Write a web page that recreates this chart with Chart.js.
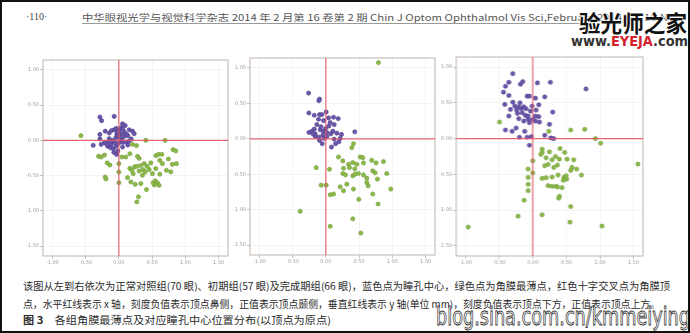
<!DOCTYPE html>
<html>
<head>
<meta charset="utf-8">
<script src="https://cdn.jsdelivr.net/npm/chart.js@4/dist/chart.umd.min.js"></script>
<style>
  html,body{margin:0;padding:0;background:#fff;}
  #page{position:relative;width:686px;height:329px;border:2px solid #111;overflow:hidden;background:#fff;}
  .t{position:absolute;white-space:nowrap;display:inline-block;transform-origin:left center;}
  canvas{position:absolute;}
  .cap{font-family:"Noto Sans CJK SC",sans-serif;font-size:10px;color:#2a2a2a;}
</style>
</head>
<body>
<div id="page">
  <div class="t" style="left:24px;top:9px;font:10px 'Liberation Serif',serif;color:#444;">·110·</div>
  <div class="t" id="title" style="left:80px;top:9px;font-family:'Noto Sans CJK SC',sans-serif;font-size:9px;color:#555;">中华眼视光学与视觉科学杂志 2014 年 2 月第 16 卷第 2 期 Chin J Optom Ophthalmol Vis Sci,February 2014,Vol.16,No.2</div>
  <div style="position:absolute;left:80px;top:21px;width:500px;border-top:1px solid #999;"></div>
  <div class="t" id="logo1" style="left:577px;top:3px;font-family:'Noto Sans CJK SC',sans-serif;font-weight:bold;font-size:23px;color:#111;text-shadow:0 0 2px #fff,0 0 2px #fff,0 0 3px #fff;">验光师之家</div>
  <div class="t" id="logo2" style="left:569px;top:31px;font-family:'DejaVu Sans',sans-serif;font-weight:bold;font-size:14px;color:#333;text-shadow:0 0 2px #fff;">www.<span style="color:#d4202c">EYEJA</span>.com</div>

  <canvas id="c1"></canvas>
  <canvas id="c2"></canvas>
  <canvas id="c3"></canvas>

  <div class="t cap" id="cap1" style="left:21px;top:276px;">该图从左到右依次为正常对照组(70 眼)、初期组(57 眼)及完成期组(66 眼)，蓝色点为瞳孔中心，绿色点为角膜最薄点，红色十字交叉点为角膜顶</div>
  <div class="t cap" id="cap2" style="left:21px;top:294px;">点，水平红线表示 x 轴，刻度负值表示顶点鼻侧，正值表示顶点颞侧，垂直红线表示 y 轴(单位 mm)，刻度负值表示顶点下方，正值表示顶点上方。</div>
  <div class="t cap" id="cap3" style="left:21px;top:310px;"><b>图 3</b>　各组角膜最薄点及对应瞳孔中心位置分布(以顶点为原点)</div>
  <div class="t" id="blog" style="left:434px;top:300px;font-family:'DejaVu Sans',sans-serif;font-size:25px;color:#fff;-webkit-text-stroke:0.9px #333;">blog.sina.com.cn/kmmeiying</div>
</div>

<script>
// ---- data (x, y in mm, relative to corneal apex) ----
const xTicks = [-1.00, -0.50, 0.00, 0.50, 1.00, 1.50];
const yTicks = [1.00, 0.50, 0.00, -0.50, -1.00, -1.50];

// Panel 1: normal control group — pupil centres (blue)
const ctrlPupil = [
 [-0.285,0.33],[-0.26,0.28],[-0.07,0.34],[0.055,0.235],[0.095,0.21],[-0.11,0.14],[-0.07,0.15],
 [0.015,0.15],[0.005,0.10],[0.035,0.18],[0.155,0.15],[0.205,0.13],[0.23,0.095],[0.135,0.066],
 [0.08,0.057],[-0.03,0.085],[-0.045,0.038],[-0.145,0.024],[-0.285,0.085],[-0.285,0.02],[-0.385,-0.07],
 [-0.265,-0.057],[-0.195,-0.038],[-0.165,-0.085],[-0.125,-0.104],[-0.085,-0.12],[-0.045,-0.085],
 [-0.015,-0.15],[0.015,-0.028],[0.045,0.01],[0.065,-0.028],[0.115,-0.024],[0.155,-0.01],[0.185,0.02],
 [-0.035,-0.2],[-0.075,-0.17],[-0.215,-0.03],[-0.115,-0.057],[-0.095,0.0],[-0.005,0.047],[0.025,0.094],
 [-0.145,0.104],[-0.205,0.13],[0.085,0.113],[0.115,0.085],[-0.025,0.12],[-0.065,-0.028],[-0.135,-0.02],
 [0.135,-0.066],[0.055,-0.094],[0.01,0.06],[-0.04,0.17],[0.06,0.16],[-0.18,-0.06],[-0.02,-0.05]
];
// Panel 1: thinnest corneal points (green)
const ctrlThin = [
 [-0.57,0.066],[0.405,0.0],[0.695,0.0],[0.0,-0.33],[0.0,-0.45],[0.0,-0.60],[0.205,-0.057],[0.265,-0.075],
 [-0.305,-0.226],[-0.215,-0.208],[-0.135,-0.35],[-0.205,-0.52],[-0.195,-0.547],[0.105,-0.236],[0.165,-0.19],
 [0.28,-0.226],[0.305,-0.255],[0.38,-0.33],[0.165,-0.396],[0.195,-0.425],[0.235,-0.377],[0.265,-0.368],
 [0.325,-0.358],[0.365,-0.415],[0.395,-0.448],[0.455,-0.415],[0.425,-0.368],[0.48,-0.32],[0.555,-0.217],
 [0.595,-0.198],[0.645,-0.198],[0.815,-0.132],[0.855,-0.15],[0.615,-0.283],[0.655,-0.33],[0.745,-0.264],
 [0.805,-0.34],[0.865,-0.33],[0.715,-0.425],[0.78,-0.448],[0.555,-0.40],[0.505,-0.472],[0.615,-0.48],
 [0.545,-0.575],[0.58,-0.604],[0.605,-0.637],[0.535,-0.632],[0.515,-0.604],[0.415,-0.698],[0.33,-0.613],
 [0.245,-0.623],[0.18,-0.59],[0.13,-0.528],[0.295,-0.80],[0.27,-0.873],[0.215,-0.472],[0.305,-0.434],
 [0.355,-0.495],[0.045,-0.236],[-0.265,-0.236],[-0.175,-0.32]
];
// Panel 2: early group
const earlyPupil = [
 [-0.26,0.645],[-0.105,0.537],[-0.095,0.56],[-0.255,0.364],[-0.175,0.332],[-0.095,0.341],[-0.06,0.341],
 [0.005,0.378],[-0.11,0.276],[-0.035,0.257],[0.04,0.294],[0.115,0.304],[0.185,0.285],[0.065,0.229],
 [0.125,0.20],[-0.135,0.20],[-0.175,0.136],[-0.255,0.089],[-0.21,0.107],[-0.16,0.07],[-0.085,0.126],
 [-0.035,0.107],[-0.005,0.145],[0.015,0.089],[0.075,0.07],[0.105,0.107],[0.165,0.079],[0.235,0.061],
 [0.215,0.005],[0.195,-0.042],[0.145,-0.07],[0.085,-0.117],[-0.055,-0.07],[-0.095,-0.023],[-0.16,0.033],
 [-0.195,0.07],[0.015,0.033],[-0.025,0.005],[0.435,0.098],[0.125,-0.005],[0.045,0.18],[-0.075,0.17],
 [-0.105,0.023],[-0.045,0.051]
];
const earlyThin = [
 [0.79,1.075],[0.415,-0.07],[0.39,-0.126],[0.19,-0.257],[0.255,-0.313],[0.405,-0.336],[0.515,-0.257],
 [0.555,-0.266],[0.565,-0.341],[0.69,-0.304],[0.755,-0.341],[0.865,-0.322],[0.265,-0.416],[0.355,-0.407],
 [0.435,-0.425],[0.255,-0.49],[0.295,-0.51],[0.405,-0.523],[0.44,-0.50],[0.49,-0.49],[0.565,-0.51],
 [0.615,-0.556],[0.705,-0.453],[0.74,-0.48],[0.775,-0.57],[0.915,-0.49],[0.615,-0.617],[0.635,-0.664],
 [0.315,-0.64],[0.215,-0.678],[0.265,-0.734],[0.415,-0.71],[0.065,-0.79],[0.115,-0.78],[0.495,-0.855],
 [0.705,-0.78],[0.785,-0.92],[0.975,-0.71],[-0.145,-0.407],[0.055,-0.43],[-0.07,-0.654],[0.005,-0.654],
 [-0.385,-1.023],[0.405,-1.13],[0.065,-1.234],[0.525,-1.33],[0.34,-0.36],[0.465,-0.36]
];
// Panel 3: completed group
const donePupil = [
 [-0.297,0.907],[-0.356,0.787],[-0.406,0.731],[-0.183,0.759],[-0.149,0.796],[0.069,0.778],[0.262,0.787],
 [-0.436,0.648],[-0.356,0.602],[-0.084,0.593],[-0.05,0.593],[0.04,0.565],[0.178,0.583],[-0.416,0.477],
 [-0.297,0.509],[-0.267,0.454],[-0.208,0.444],[-0.168,0.417],[-0.134,0.444],[-0.099,0.417],[-0.01,0.454],
 [0.089,0.472],[-0.332,0.407],[-0.158,0.361],[-0.109,0.324],[-0.069,0.315],[0.05,0.398],[0.04,0.315],
 [0.089,0.306],[0.297,0.37],[-0.356,0.315],[-0.208,0.278],[-0.134,0.245],[-0.05,0.222],[0.04,0.245],
 [0.099,0.231],[0.248,0.199],[-0.406,0.12],[-0.307,0.102],[-0.248,0.148],[-0.119,0.102],[-0.198,0.019],
 [-0.084,0.019],[-0.02,0.028],[0.178,0.046],[0.267,0.009],[0.312,0.0],[-0.05,-0.093],[0.792,0.694],
 [-0.069,0.269],[-0.228,0.352],[-0.035,0.384],[-0.24,0.40],[-0.19,0.50],[0.0,0.27]
];
const doneThin = [
 [-0.495,0.231],[0.238,0.102],[0.564,0.12],[0.772,0.13],[0.931,0.0],[1.01,-0.065],[1.564,-0.356],
 [0.139,-0.194],[0.119,-0.222],[0.248,-0.185],[0.337,-0.25],[0.406,-0.139],[0.475,-0.194],[0.51,-0.287],
 [0.609,-0.296],[0.653,-0.426],[0.564,-0.444],[0.723,-0.509],[0.198,-0.269],[0.228,-0.361],[0.287,-0.296],
 [0.366,-0.37],[0.396,-0.287],[0.178,-0.38],[0.139,-0.556],[0.198,-0.546],[0.287,-0.537],[0.376,-0.509],
 [0.465,-0.542],[0.495,-0.519],[0.505,-0.565],[0.455,-0.583],[0.228,-0.657],[0.287,-0.667],[0.347,-0.667],
 [0.366,-0.676],[0.436,-0.685],[0.396,-0.806],[0.386,-0.833],[-0.069,-0.426],[0.0,-0.31],[0.0,-0.481],
 [-0.069,-0.639],[-0.069,-0.727],[-0.129,-0.861],[-0.218,-1.083],[0.139,-1.065],[0.564,-0.949],
 [0.554,-1.167],[1.03,-1.222],[-0.96,-1.236],[-0.069,-0.542],[0.312,-0.403],[0.139,-0.148],[0.584,-0.403]
];

const X_MIN = -1.14, X_MAX = 1.64, Y_MIN = -1.64, Y_MAX = 1.14;

// ---- drawing ----
const frameAndCross = {
  id: 'frameAndCross',
  afterDatasetsDraw(chart) {
    const {ctx, chartArea: a, scales} = chart;
    ctx.save();
    ctx.strokeStyle = '#bfb3ae';
    ctx.lineWidth = 1;
    ctx.strokeRect(a.left, a.top, a.right - a.left, a.bottom - a.top);
    const x0 = scales.x.getPixelForValue(0);
    const y0 = scales.y.getPixelForValue(0);
    ctx.strokeStyle = 'rgba(226,84,100,0.9)';
    ctx.lineWidth = 1.2;
    ctx.beginPath();
    ctx.moveTo(a.left, y0); ctx.lineTo(a.right, y0);
    ctx.moveTo(x0, a.top); ctx.lineTo(x0, a.bottom);
    ctx.stroke();
    ctx.restore();
  }
};

function toPts(arr){ return arr.map(p => ({x:p[0], y:p[1]})); }

function makePanel(id, L, T, R, B, pupil, thin) {
  const AX = 30, PT = 6, PR = 6, XH = 16;
  const cv = document.getElementById(id);
  const w = (R - L) + AX + PR, h = (B - T) + PT + XH;
  cv.style.left = (L - AX) + 'px';
  cv.style.top = (T - PT) + 'px';
  cv.style.width = w + 'px'; cv.style.height = h + 'px';
  cv.width = w; cv.height = h;
  const tickFont = {family: 'DejaVu Sans', size: 5};
  new Chart(cv, {
    type: 'scatter',
    data: {
      datasets: [
        {data: toPts(thin), backgroundColor: 'rgb(140,186,72)', borderColor: 'rgb(112,156,58)', borderWidth: 0.6, pointRadius: 2.1},
        {data: toPts(pupil), backgroundColor: 'rgb(108,86,172)', borderColor: 'rgb(80,62,140)', borderWidth: 0.6, pointRadius: 2.1}
      ]
    },
    options: {
      responsive: false, animation: false, devicePixelRatio: 1,
      layout: {padding: {top: PT, right: PR, left: 0, bottom: 0}},
      plugins: {legend: {display: false}, tooltip: {enabled: false}},
      scales: {
        x: {
          type: 'linear', min: X_MIN, max: X_MAX,
          afterBuildTicks: s => { s.ticks = xTicks.map(v => ({value: v})); },
          afterFit: s => { s.height = XH; },
          ticks: {font: tickFont, color: '#9c9c9c', padding: 1, maxRotation: 0, callback: v => Number(v).toFixed(2)},
          grid: {color: 'rgba(215,215,215,0.45)', tickColor: '#9a9a9a', tickLength: 3, lineWidth: 0.6},
          border: {display: false}
        },
        y: {
          type: 'linear', min: Y_MIN, max: Y_MAX,
          afterBuildTicks: s => { s.ticks = yTicks.map(v => ({value: v})); },
          afterFit: s => { s.width = AX; },
          ticks: {font: tickFont, color: '#9c9c9c', padding: 1, callback: v => Number(v).toFixed(2)},
          grid: {color: 'rgba(215,215,215,0.45)', tickColor: '#9a9a9a', tickLength: 3, lineWidth: 0.6},
          border: {display: false}
        }
      }
    },
    plugins: [frameAndCross]
  });
}

makePanel('c1', 40.7, 57.7, 226, 254, ctrlPupil, ctrlThin);
makePanel('c2', 247.7, 56, 433.3, 253, earlyPupil, earlyThin);
makePanel('c3', 454, 55, 640.7, 254, donePupil, doneThin);

// ---- fit text widths to the reference ----
function fit(id, w) {
  const el = document.getElementById(id);
  const s = w / el.getBoundingClientRect().width;
  el.style.transform = 'scaleX(' + s + ')';
}
fit('title', 602);
fit('logo1', 108);
fit('logo2', 117);
fit('cap1', 647);
fit('cap2', 637);
fit('cap3', 308);
fit('blog', 254);
</script>
</body>
</html>
